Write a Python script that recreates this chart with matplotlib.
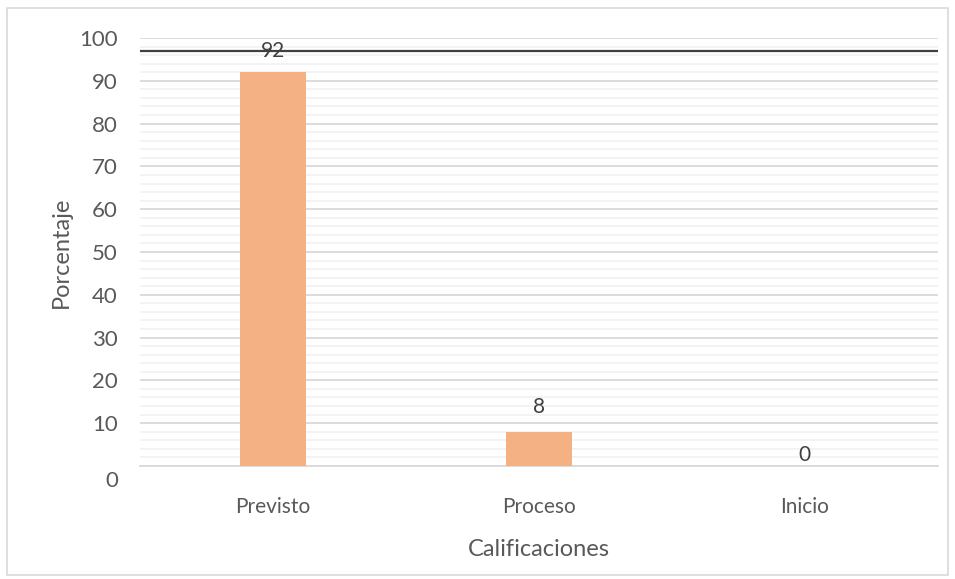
import matplotlib.pyplot as plt
import matplotlib.transforms as mtransforms
from matplotlib.patches import Rectangle

categorias = ['Previsto', 'Proceso', 'Inicio']
porcentajes = [92, 8, 0]
linea_ref = 97
yticks = [0, 10, 20, 30, 40, 50, 60, 70, 80, 90, 100]

plt.rcParams['font.family'] = ['Lato', 'DejaVu Sans']
gris = '#595959'

fig = plt.figure(figsize=(9.55, 5.79), dpi=100)
ax = fig.add_axes([0.1466, 0.1952, 0.8354, 0.7392])

x = list(range(len(categorias)))
barras = ax.bar(x, porcentajes, width=0.25, color='#F4B183', zorder=3)
desplaz = [15, 18, 8]  # separación de las etiquetas en puntos
for b, v, d in zip(barras, porcentajes, desplaz):
    ax.annotate(str(v), (b.get_x() + b.get_width() / 2, v), xytext=(0, d),
                textcoords='offset points', ha='center', va='center',
                fontsize=15, color='#404040', zorder=5)

ax.axhline(linea_ref, color='#404040', lw=1.6, zorder=4)

ax.set_xlim(-0.5, 2.5)
ax.set_ylim(0, 100)
ax.set_yticks(yticks)
ax.set_yticks(range(0, 101, 2), minor=True)
ax.grid(axis='y', which='major', color='#D9D9D9', lw=1.3, zorder=1)
ax.grid(axis='y', which='minor', color='#F2F2F2', lw=1.3, zorder=0)
ax.set_xticks(x)
ax.set_xticklabels(categorias)
ax.tick_params(axis='both', which='both', length=0, colors=gris)
ax.tick_params(axis='y', labelsize=16, pad=16)
ax.tick_params(axis='x', labelsize=15, pad=22)

# la etiqueta 0 aparece un poco más abajo en el original
etiq0 = ax.get_yticklabels()[0]
etiq0.set_transform(etiq0.get_transform() +
                    mtransforms.ScaledTranslation(0, -13 / 100, fig.dpi_scale_trans))

for s in ['top', 'right', 'left']:
    ax.spines[s].set_visible(False)
ax.spines['bottom'].set_color('#D9D9D9')
ax.spines['bottom'].set_linewidth(1.3)

ax.set_ylabel('Porcentaje', fontsize=17, color=gris, labelpad=5)
ax.set_xlabel('Calificaciones', fontsize=17, color=gris, labelpad=16)

fig.patches.append(Rectangle((7 / 955, 4 / 579), 941 / 955, 567 / 579,
                             transform=fig.transFigure, fill=False,
                             edgecolor='#D9D9D9', lw=1.2))

fig.savefig('out.png', dpi=100)
